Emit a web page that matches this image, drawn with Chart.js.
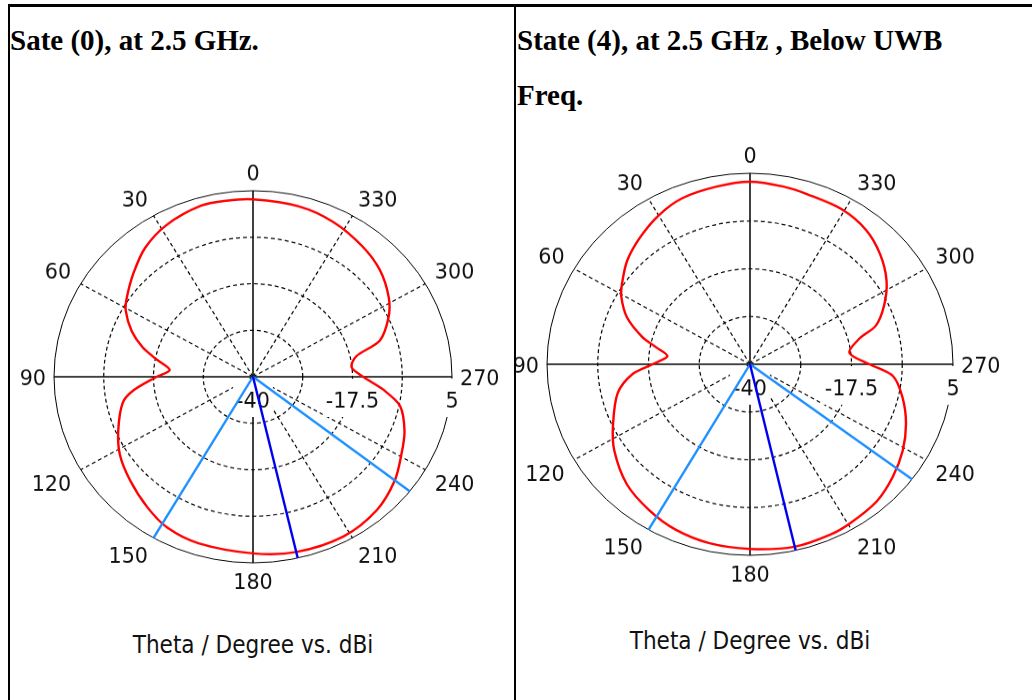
<!DOCTYPE html>
<html>
<head>
<meta charset="utf-8">
<script src="https://cdn.jsdelivr.net/npm/chart.js@4.4.1/dist/chart.umd.min.js"></script>
<style>
  html, body { margin: 0; padding: 0; background: #fff; width: 1032px; height: 700px; overflow: hidden; }
  #page { position: relative; width: 1032px; height: 700px; }
  .rule { position: absolute; background: #000; }
  .title { position: absolute; font-family: "Liberation Serif", "Times New Roman", serif; font-weight: bold;
           font-size: 29px; line-height: 55px; color: #000; white-space: nowrap; }
  .cell { position: absolute; overflow: hidden; }
  .cell canvas { position: absolute; transform-origin: 0 0; }
  .caption { position: absolute; width: 400px; text-align: center; line-height: 30px; color: #111;
             font-family: "DejaVu Sans Condensed", "DejaVu Sans", sans-serif; font-size: 24px; }
</style>
</head>
<body>
<div id="page">
  <div class="rule" style="left:8px; top:4px; width:1024px; height:3px;"></div>
  <div class="rule" style="left:8px; top:4px; width:2px; height:696px;"></div>
  <div class="rule" style="left:514px; top:4px; width:2px; height:696px;"></div>

  <div class="title" style="left:10px; top:13px;">Sate (0), at 2.5 GHz.</div>
  <div class="title" style="left:517px; top:13px;">State (4), at 2.5 GHz , Below UWB<br>Freq.</div>

  <div class="cell" style="left:10px; top:7px; width:504px; height:693px;">
    <canvas id="polarA" width="500" height="500" style="left:-7px; top:136px; transform:scaleY(0.935);"></canvas>
    <div class="caption" style="left:43px; top:623px;">Theta / Degree vs. dBi</div>
  </div>
  <div class="cell" style="left:516px; top:7px; width:516px; height:693px;">
    <canvas id="polarB" width="500" height="500" style="left:-16px; top:122px; transform:scaleY(0.941);"></canvas>
    <div class="caption" style="left:34px; top:619px;">Theta / Degree vs. dBi</div>
  </div>
</div>

<script>
// Radial axis (dBi) and angular axis (degrees)
const rMin = -40;
const rMax = 5;
const radialTicks = [-40, -28.75, -17.5, -6.25, 5];
const radialLabels = [-40, -17.5, 5];
const angleTicks = [0, 30, 60, 90, 120, 150, 180, 210, 240, 270, 300, 330];

// State (0), 2.5 GHz: theta (deg) and gain (dBi)
const thetaA = [0, 8, 16, 28, 38, 47, 56, 61, 68, 74, 79, 85, 90, 97, 102, 113, 122, 132, 143, 152,
                163, 180, 193, 208, 221, 232, 241, 249, 258, 264, 270, 276, 282, 287, 295, 302, 312, 322, 334, 346];
const gainA  = [2.9, 3.0, 3.0, 1.6, -0.4, -3.1, -5.6, -7.1, -10.4, -14.0, -17.7, -21.1, -18.2, -12.7, -9.9, -6.9, -4.5, -2.6, -0.4, 1.3,
                2.1, 2.7, 3.5, 3.7, 2.7, 0.7, -1.6, -3.3, -6.0, -10.4, -15.1, -17.6, -16.1, -10.0, -6.2, -3.8, -1.4, 0.1, 1.6, 2.5];
const mainLobeA = 193;
const halfPowerA = [150, 232];

// State (4), 2.5 GHz: theta (deg) and gain (dBi)
const thetaB = [0, 10, 21, 30, 39, 48, 56, 61, 68, 75, 79, 84, 90, 95, 103, 115, 124, 136, 147, 157,
                168, 180, 193, 204, 211, 221, 230, 239, 248, 257, 265, 270, 277, 284, 288, 295, 303, 312, 321, 331, 342, 350];
const gainB  = [3.0, 2.5, 1.9, 0.5, -1.4, -3.4, -5.8, -7.4, -10.6, -15.3, -18.7, -21.6, -18.4, -13.9, -9.9, -6.5, -3.7, -0.7, 1.0, 2.3,
                3.1, 3.5, 4.1, 3.9, 3.5, 2.8, 1.3, -0.5, -2.7, -5.3, -8.2, -13.5, -17.8, -15.0, -10.7, -7.2, -3.9, -1.2, 0.8, 1.8, 2.0, 2.5];
const mainLobeB = 193;
const halfPowerB = [150, 233];

// One radar slot per degree; theta grows counter-clockwise from the top.
const slotCount = 360;
const slotOf = theta => (slotCount - theta) % slotCount;
const thetaLabels = Array.from({ length: slotCount }, (_, i) => (slotCount - i) % slotCount);

function polarSeries(thetas, values) {
  const d = new Array(slotCount).fill(null);
  thetas.forEach((t, k) => { d[slotOf(t)] = values[k]; });
  return d;
}
function rayFromCentre(theta) {
  const d = new Array(slotCount).fill(null);
  const i = slotOf(theta);
  d[i] = rMax;
  d[(i + 1) % slotCount] = rMin;
  return d;
}

const labelFont = '23px "DejaVu Sans Condensed", "DejaVu Sans", sans-serif';
const textColor = '#111';

// Degree labels around the rim
const angleLabelPlugin = {
  id: 'angleLabels',
  afterDatasetsDraw(chart, args, opts) {
    const scale = chart.scales.r;
    const ctx = chart.ctx;
    ctx.save();
    ctx.font = labelFont;
    ctx.fillStyle = textColor;
    ctx.textAlign = 'left';
    ctx.textBaseline = 'alphabetic';
    angleTicks.forEach(deg => {
      const idx = slotOf(deg);
      const side = idx === 90 || idx === 270;
      const p = scale.getPointPosition(idx, scale.drawingArea + (side ? opts.sidePadding : opts.padding));
      const text = String(deg);
      const m = ctx.measureText(text);
      const w = m.width;
      const h = m.actualBoundingBoxAscent;
      let x = p.x, y = p.y;
      if (idx === 0 || idx === 180) x -= w / 2;
      else if (idx > 180) x -= w;
      if (side) y -= h / 2;
      else if (idx < 90 || idx > 270) y -= h;
      ctx.fillText(text, x, y + h);
    });
    ctx.restore();
  }
};

// dBi labels along the 270 degree axis, on white backdrops
const radialLabelPlugin = {
  id: 'radialLabels',
  beforeDatasetsDraw(chart) {
    const scale = chart.scales.r;
    const ctx = chart.ctx;
    ctx.save();
    ctx.font = labelFont;
    ctx.textAlign = 'center';
    ctx.textBaseline = 'middle';
    radialLabels.forEach(v => {
      const x = scale.xCenter + scale.getDistanceFromCenterForValue(v);
      const text = String(v);
      const w = ctx.measureText(text).width;
      ctx.fillStyle = '#fff';
      ctx.fillRect(x - w / 2 - 3, scale.yCenter + 2, w + 6, 41);
      ctx.fillStyle = textColor;
      ctx.fillText(text, x, scale.yCenter + 27);
    });
    ctx.restore();
  }
};

function buildPolar(canvasId, thetas, gains, mainLobe, halfPower, pad) {
  return new Chart(document.getElementById(canvasId), {
    type: 'radar',
    data: {
      labels: thetaLabels,
      datasets: [
        { label: 'main lobe', data: rayFromCentre(mainLobe), borderColor: '#0000f0', borderWidth: 2.4, spanGaps: false, tension: 0, order: 0 },
        { label: '3 dB angle 1', data: rayFromCentre(halfPower[0]), borderColor: '#1e90ff', borderWidth: 2.4, spanGaps: false, tension: 0, order: 1 },
        { label: '3 dB angle 2', data: rayFromCentre(halfPower[1]), borderColor: '#1e90ff', borderWidth: 2.4, spanGaps: false, tension: 0, order: 2 },
        { label: 'farfield', data: polarSeries(thetas, gains), borderColor: '#ff0000', borderWidth: 2.4, spanGaps: true, tension: 0.3, order: 3 }
      ]
    },
    options: {
      responsive: false,
      animation: false,
      devicePixelRatio: 1,
      events: [],
      layout: { padding: pad },
      elements: {
        point: { radius: 0, hoverRadius: 0 },
        line: { fill: false, backgroundColor: 'rgba(0,0,0,0)', capBezierPoints: false }
      },
      plugins: {
        legend: { display: false },
        tooltip: { enabled: false },
        angleLabels: { padding: 11, sidePadding: 8 }
      },
      scales: {
        r: {
          min: rMin,
          max: rMax,
          afterBuildTicks: s => { s.ticks = radialTicks.map(v => ({ value: v })); },
          ticks: { display: false },
          pointLabels: { display: false },
          grid: { circular: true, color: '#000', lineWidth: c => (c.tick && c.tick.value === rMax ? 1 : 1.2) },
          border: { dash: c => (c.tick && c.tick.value === rMax ? [] : [4, 3]) },
          angleLines: {
            color: '#000',
            lineWidth: c => (c.index % 30 === 0 ? (c.index % 90 === 0 ? 1.5 : 1.2) : 0),
            borderDash: c => (c.index % 90 === 0 ? [] : [4, 3])
          }
        }
      }
    },
    plugins: [radialLabelPlugin, angleLabelPlugin]
  });
}

buildPolar('polarA', thetaA, gainA, mainLobeA, halfPowerA, 51);
buildPolar('polarB', thetaB, gainB, mainLobeB, halfPowerB, 47);
</script>
</body>
</html>
